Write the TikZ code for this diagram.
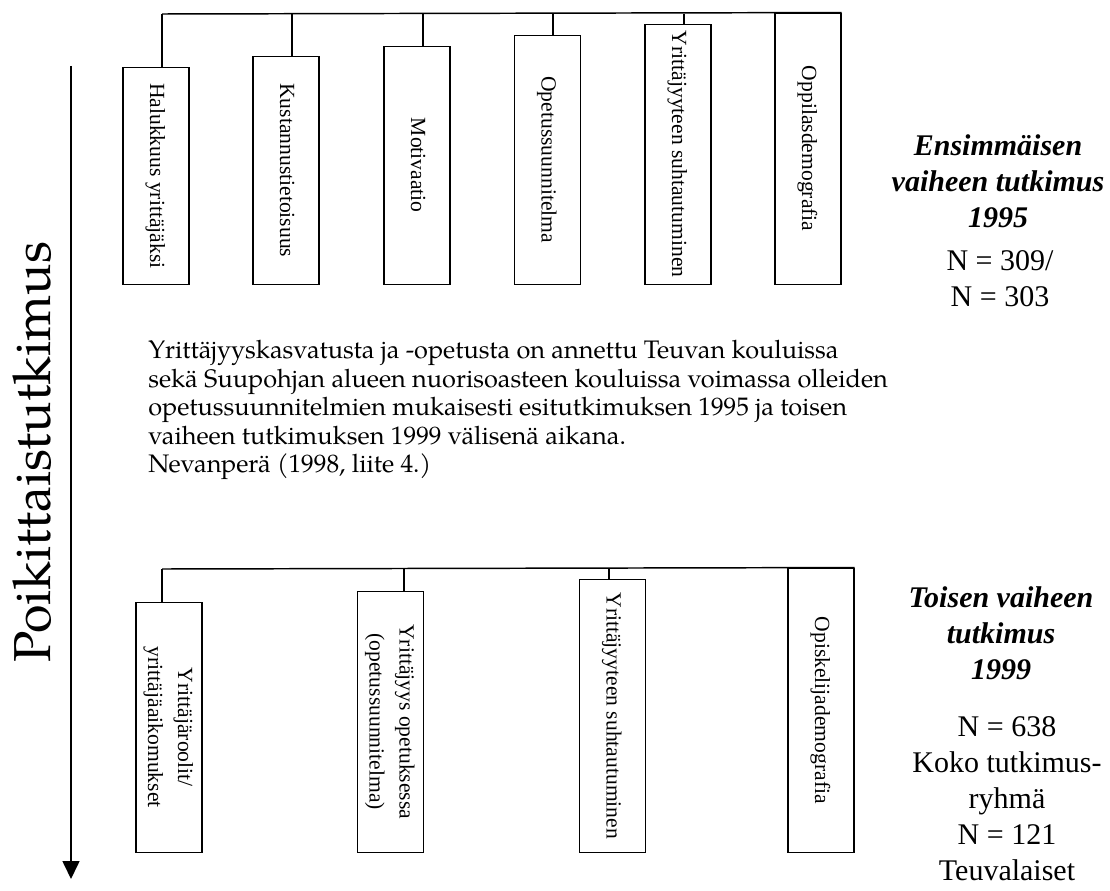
\documentclass[tikz,border=0pt]{standalone}
\usepackage{fontspec}
\setmainfont{Liberation Serif}
\newfontfamily\kirjafont{TeX Gyre Pagella}
\usetikzlibrary{arrows.meta}

\newcommand{\pysty}[1]{\rotatebox{-90}{\begin{tabular}{@{}c@{}}#1\end{tabular}}}

\begin{document}
\begin{tikzpicture}[x=0.75pt, y=-0.75pt,
   laatikko/.style={draw, line width=1.1pt, minimum width=49.5pt, inner sep=0pt, anchor=south, font=\fontsize{16.2}{22.5}\selectfont},
   otsikko/.style={align=center, font=\fontsize{22.5}{27}\selectfont\bfseries\itshape},
   luku/.style={align=center, font=\fontsize{22.5}{27}\selectfont}]

   \useasboundingbox (0,0) rectangle (1110,891);

   % 矢印
   \coordinate (alku) at (71,66);
   \coordinate (loppu) at (71,879);
   \draw [line width=1.2pt, -{Triangle[width=12.75pt, length=13.5pt]}](alku)--(loppu);
   \node [rotate=90, font=\kirjafont\fontsize{39}{46}\selectfont] (poikki) at (32,452) {Poikittaistutkimus};

   % 1995
   \node [laatikko, minimum height=162.75pt] (t1) at (156,285) {\pysty{Halukkuus yrittäjäksi}};
   \node [laatikko, minimum height=171pt] (t2) at (286,285) {\pysty{Kustannustietoisuus}};
   \node [laatikko, minimum height=178.5pt] (t3) at (417,285) {\pysty{Motivaatio}};
   \node [laatikko, minimum height=186.75pt] (t4) at (547.5,285) {\pysty{Opetussuunnitelma}};
   \node [laatikko, minimum height=195pt] (t5) at (678,285) {\pysty{Yrittäjyyteen suhtautuminen}};
   \node [laatikko, minimum height=203.25pt] (t6) at (808,285) {\pysty{Oppilasdemografia}};

   \coordinate (v1) at (162,14);
   \coordinate (v2) at (292,14);
   \coordinate (v3) at (423,14);
   \coordinate (v4) at (553,14);
   \coordinate (v5) at (684,14);
   \draw [line width=1.1pt](v1)--(t6.north east);
   \foreach \i in {1,...,5}
      \draw [line width=1.1pt](v\i)--(v\i |- t\i.north);

   \node [otsikko] (e1) at (998,181) {Ensimmäisen\\vaiheen tutkimus\\1995};
   \node [luku] (n1) at (1000,279) {N = 309/\\N = 303};

   % välissä
   \node [anchor=north west, align=left, inner sep=0pt, font=\kirjafont\fontsize{19}{21.4}\selectfont] (teksti) at (148,340)
      {Yrittäjyyskasvatusta ja -opetusta on annettu Teuvan kouluissa\\
       sekä Suupohjan alueen nuorisoasteen kouluissa voimassa olleiden\\
       opetussuunnitelmien mukaisesti esitutkimuksen 1995 ja toisen\\
       vaiheen tutkimuksen 1999 välisenä aikana.\\
       Nevanperä (1998, liite 4.)};

   % 1999
   \node [laatikko, minimum height=187.5pt] (a1) at (169,853) {\pysty{Yrittäjäroolit/\\yrittäjäaikomukset}};
   \node [laatikko, minimum height=195.75pt] (a2) at (390.5,853) {\pysty{Yrittäjyys opetuksessa\\(opetussuunnitelma)}};
   \node [laatikko, minimum height=204.75pt] (a3) at (612.5,853) {\pysty{Yrittäjyyteen suhtautuminen}};
   \node [laatikko, minimum height=213pt] (a4) at (821,853) {\pysty{Opiskelijademografia}};

   \coordinate (w1) at (162,569);
   \coordinate (w2) at (404,569);
   \coordinate (w3) at (609,569);
   \draw [line width=1.1pt](w1)--(a4.north east);
   \foreach \i in {1,2,3}
      \draw [line width=1.1pt](w\i)--(w\i |- a\i.north);

   \node [otsikko] (e2) at (1001,633) {Toisen vaiheen\\tutkimus\\1999};
   \node [luku] (n2) at (1007,799) {N = 638\\Koko tutkimus-\\ryhmä\\N = 121\\Teuvalaiset};

\end{tikzpicture}
\end{document}
